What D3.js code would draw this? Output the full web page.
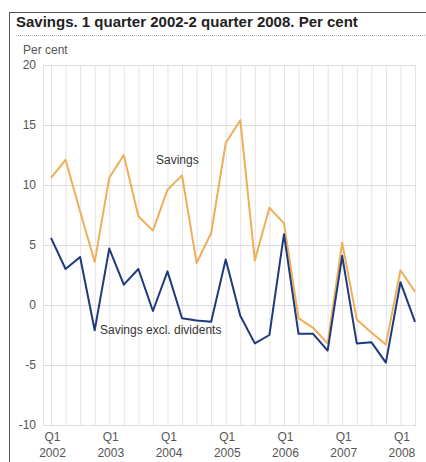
<!DOCTYPE html>
<html>
<head>
<meta charset="utf-8">
<script src="https://cdn.jsdelivr.net/npm/d3@7"></script>
<style>
  html, body { margin: 0; padding: 0; background: #fff; }
  svg { display: block; font-family: Arial, "Liberation Sans", sans-serif; }
</style>
</head>
<body>
<svg id="chart" width="426" height="462"></svg>
<script>
const quarters = [
  "2002Q1","2002Q2","2002Q3","2002Q4",
  "2003Q1","2003Q2","2003Q3","2003Q4",
  "2004Q1","2004Q2","2004Q3","2004Q4",
  "2005Q1","2005Q2","2005Q3","2005Q4",
  "2006Q1","2006Q2","2006Q3","2006Q4",
  "2007Q1","2007Q2","2007Q3","2007Q4",
  "2008Q1","2008Q2"
];
const savings = [
  10.6, 12.1, 7.8, 3.6,
  10.6, 12.5, 7.4, 6.2,
  9.6, 10.8, 3.5, 6.0,
  13.5, 15.4, 3.7, 8.1,
  6.8, -1.1, -1.9, -3.2,
  5.2, -1.2, -2.3, -3.3,
  2.9, 1.1
];
const savingsExclDividends = [
  5.6, 3.0, 4.0, -2.1,
  4.7, 1.7, 3.0, -0.5,
  2.8, -1.1, -1.3, -1.4,
  3.8, -0.9, -3.2, -2.5,
  5.9, -2.4, -2.4, -3.8,
  4.1, -3.2, -3.1, -4.8,
  1.9, -1.4
];
const yTicks = [-10, -5, 0, 5, 10, 15, 20];
const xTickQuarters = ["2002Q1","2003Q1","2004Q1","2005Q1","2006Q1","2007Q1","2008Q1"];
const title = "Savings. 1 quarter 2002-2 quarter 2008. Per cent";
const yUnit = "Per cent";
const seriesNames = ["Savings", "Savings excl. dividents"];

const svg = d3.select("#chart");
const plotLeft = 43, plotRight = 416, plotTop = 65, plotBottom = 425;
const FONT = "Arial, 'Liberation Sans', sans-serif";

const x = d3.scalePoint().domain(quarters).range([51, 415]);
const y = d3.scaleLinear().domain([-10, 20]).range([plotBottom, plotTop]);

// Frame
svg.append("line").attr("x1", 9.5).attr("x2", 426).attr("y1", 12.5).attr("y2", 12.5)
  .attr("stroke", "#555").attr("stroke-width", 1);
svg.append("line").attr("x1", 9.5).attr("x2", 9.5).attr("y1", 12).attr("y2", 462)
  .attr("stroke", "#555").attr("stroke-width", 1);

// Title
svg.append("text").attr("x", 16).attr("y", 27)
  .attr("font-size", 15).attr("font-weight", "bold").attr("fill", "#222")
  .text(title);
svg.append("line").attr("x1", 16).attr("x2", 426).attr("y1", 35.5).attr("y2", 35.5)
  .attr("stroke", "#aaa").attr("stroke-dasharray", "1,1");

svg.append("text").attr("x", 23).attr("y", 54)
  .attr("font-size", 12).attr("fill", "#555").text(yUnit);

// Vertical grid at each quarter
svg.append("g").selectAll("line").data(quarters).join("line")
  .attr("x1", d => x(d) + 0.5).attr("x2", d => x(d) + 0.5)
  .attr("y1", plotTop).attr("y2", plotBottom)
  .attr("stroke", "#e2e2e2").attr("stroke-width", 1);
svg.append("line").attr("x1", plotLeft + 0.5).attr("x2", plotLeft + 0.5)
  .attr("y1", plotTop).attr("y2", plotBottom)
  .attr("stroke", "#e2e2e2");

// Y axis with horizontal grid
const yAxis = d3.axisLeft(y).tickValues(yTicks).tickFormat(d => String(d))
  .tickSize(-(plotRight - plotLeft)).tickPadding(7);
const gy = svg.append("g").attr("transform", `translate(${plotLeft},0)`).call(yAxis);
gy.select(".domain").remove();
gy.selectAll(".tick line").attr("stroke", "#dcdcdc");
gy.selectAll(".tick text").attr("font-size", 12).attr("fill", "#555")
  .attr("font-family", FONT);

// X axis labels
const xAxis = d3.axisBottom(x).tickValues(xTickQuarters).tickSize(0).tickFormat("");
const gx = svg.append("g").attr("transform", `translate(0,${plotBottom})`).call(xAxis);
gx.select(".domain").remove();
gx.selectAll(".tick").each(function(d) {
  const t = d3.select(this).append("text").attr("text-anchor", "middle")
    .attr("font-size", 12).attr("fill", "#555")
    .attr("font-family", FONT);
  t.append("tspan").attr("x", 1).attr("y", 16).text("Q" + d.slice(5));
  t.append("tspan").attr("x", 1).attr("y", 32).text(d.slice(0, 4));
});

// Lines
const line = d3.line().x((d, i) => x(quarters[i])).y(d => y(d));
svg.append("path").datum(savings).attr("d", line)
  .attr("fill", "none").attr("stroke", "#eeae5a").attr("stroke-width", 2)
  .attr("stroke-linejoin", "round");
svg.append("path").datum(savingsExclDividends).attr("d", line)
  .attr("fill", "none").attr("stroke", "#1f3a7c").attr("stroke-width", 2)
  .attr("stroke-linejoin", "round");

// Inline labels
svg.append("text").attr("x", 156).attr("y", 164).attr("font-size", 12).attr("fill", "#333")
  .text(seriesNames[0]);
svg.append("text").attr("x", 100).attr("y", 334).attr("font-size", 12).attr("fill", "#333")
  .text(seriesNames[1]);
</script>
</body>
</html>
